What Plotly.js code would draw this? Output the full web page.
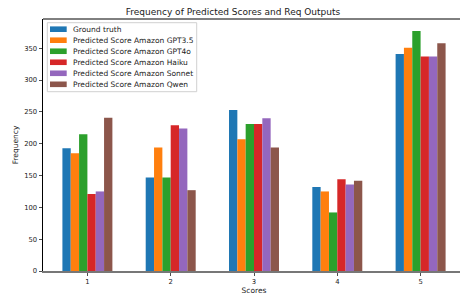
<!DOCTYPE html>
<html>
<head>
<meta charset="utf-8">
<script src="https://cdn.plot.ly/plotly-3.0.1.min.js"></script>
<style>
html,body{margin:0;padding:0;overflow:hidden;background:#fff;}
#chart{width:466px;height:295px;}
</style>
</head>
<body>
<div id="chart"></div>
<script>
const categories = [1, 2, 3, 4, 5];
const seriesNames = [
  "Ground truth",
  "Predicted Score Amazon GPT3.5",
  "Predicted Score Amazon GPT4o",
  "Predicted Score Amazon Haiku",
  "Predicted Score Amazon Sonnet",
  "Predicted Score Amazon Qwen"
];
const groundTruth = [193, 147, 253, 132, 341];
const gpt35 = [185, 194, 207, 125, 351];
const gpt4o = [215, 147, 231, 92, 377];
const haiku = [121, 229, 231, 144, 337];
const sonnet = [125, 224, 240, 136, 337];
const qwen = [241, 127, 194, 142, 358];
const yTicks = [0, 50, 100, 150, 200, 250, 300, 350];
const colors = ["#1f77b4", "#ff7f0e", "#2ca02c", "#d62728", "#9467bd", "#8c564b"];

const allSeries = [groundTruth, gpt35, gpt4o, haiku, sonnet, qwen];
const FONT = "DejaVu Sans, sans-serif";
const TXT = "#1a1a1a";

const traces = allSeries.map((vals, i) => ({
  type: "bar",
  x: categories,
  y: vals,
  name: seriesNames[i],
  marker: {color: colors[i], line: {width: 0}},
  showlegend: false,
  hoverinfo: "skip"
}));

// layout geometry (pixels)
const W = 466, H = 295, ML = 43, MR = 1, MT = 19, MB = 24;
const PW = W - ML - MR, PH = H - MT - MB;
const px = x => (x - ML) / PW;
const py = y => (H - MB - y) / PH;

const shapes = [
  {type: "line", xref: "paper", yref: "paper", x0: 0, x1: 1, y0: 1, y1: 1, line: {color: "#000", width: 1}},
  {type: "rect", xref: "paper", yref: "paper", x0: px(47.3), x1: px(196.7), y0: py(91.7), y1: py(22.7),
   line: {color: "#d0d0d0", width: 1}, fillcolor: "rgba(255,255,255,0.8)", layer: "above"}
];
const annotations = [];
seriesNames.forEach((name, i) => {
  const cy = 29.2 + i * 11.02;
  shapes.push({type: "rect", xref: "paper", yref: "paper", x0: px(50), x1: px(66.7), y0: py(cy + 2.8), y1: py(cy - 2.8),
    line: {width: 0}, fillcolor: colors[i], layer: "above"});
  annotations.push({xref: "paper", yref: "paper", x: px(71.2), y: py(cy), xanchor: "left", yanchor: "middle",
    text: name, showarrow: false, font: {family: FONT, size: 7.5, color: TXT}});
});

const layout = {
  width: W, height: H,
  margin: {l: ML, r: MR, t: MT, b: MB, pad: 0},
  paper_bgcolor: "#fff", plot_bgcolor: "#fff",
  barmode: "group", bargap: 0.4, bargroupgap: 0,
  title: {text: "Frequency of Predicted Scores and Req Outputs", font: {family: FONT, size: 9, color: TXT},
    x: px(254), xanchor: "center", y: 1 - 12 / H, yanchor: "middle"},
  xaxis: {
    range: [0.467, 5.533], tickvals: categories, ticktext: categories.map(String),
    ticks: "outside", ticklen: 3.5, tickcolor: "#222", tickwidth: 0.8,
    showgrid: false, zeroline: false, showline: true, linecolor: "#777", linewidth: 1.5,
    tickfont: {family: FONT, size: 6.8, color: TXT},
    title: {text: "Scores", font: {family: FONT, size: 7.5, color: TXT}, standoff: 1}
  },
  yaxis: {
    range: [0, 396], tickvals: yTicks, ticktext: yTicks.map(String),
    ticks: "outside", ticklen: 3.5, tickcolor: "#222", tickwidth: 0.8,
    showgrid: false, zeroline: false, showline: true, linecolor: "#000", linewidth: 1,
    tickfont: {family: FONT, size: 6.8, color: TXT},
    title: {text: "Frequency", font: {family: FONT, size: 7.5, color: TXT}, standoff: 4}
  },
  shapes: shapes,
  annotations: annotations,
  showlegend: false
};

Plotly.newPlot("chart", traces, layout, {staticPlot: true, displayModeBar: false});
</script>
</body>
</html>
